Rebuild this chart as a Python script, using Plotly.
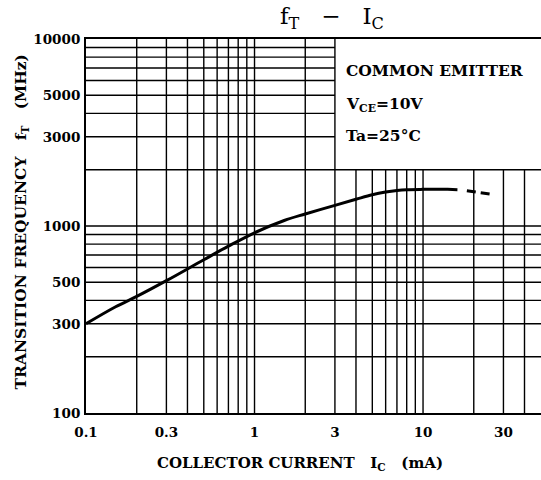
import plotly.graph_objects as go
import numpy as np

# Data
ic_solid = [0.1, 0.15, 0.2, 0.3, 0.5, 0.7, 1, 1.5, 2, 3, 4, 5, 6, 7, 8, 10, 12, 14, 16]
ft_solid = [300, 370, 420, 510, 660, 780, 920, 1070, 1160, 1290, 1390, 1470, 1520, 1550, 1565, 1570, 1570, 1570, 1565]
ic_dash = [18.2, 25]
ft_dash = [1545, 1480]

x_ticks = [0.1, 0.3, 1, 3, 10, 30]
x_ticklabels = ["0.1", "0.3", "1", "3", "10", "30"]
y_ticks = [100, 300, 500, 1000, 3000, 5000, 10000]
y_ticklabels = ["100", "300", "500", "1000", "3000", "5000", "10000"]

x_grid = [0.2, 0.3, 0.4, 0.5, 0.6, 0.7, 0.8, 0.9, 1, 2, 3, 4, 5, 6, 7, 8, 9, 10, 20, 30, 40]
y_grid = [200, 300, 400, 500, 600, 700, 800, 900, 1000, 2000, 3000, 4000, 5000, 6000, 7000, 8000, 9000]

# text box region (no grid inside)
box_x0, box_y0 = 3, 2000

X_MAX_LOG = 1.70
x_max = 10 ** X_MAX_LOG

FONT = "DejaVu Serif"

fig = go.Figure()
fig.add_trace(go.Scatter(x=ic_solid, y=ft_solid, mode="lines",
                         line=dict(color="black", width=3, shape="spline"),
                         showlegend=False, hoverinfo="skip"))
fig.add_trace(go.Scatter(x=ic_dash, y=ft_dash, mode="lines",
                         line=dict(color="black", width=3, dash="9px,5px"),
                         showlegend=False, hoverinfo="skip"))

shapes = []
GL = dict(color="black", width=1.4)
for gx in x_grid:
    ytop = box_y0 if gx > box_x0 else 10000
    shapes.append(dict(type="line", xref="x", yref="y", x0=gx, x1=gx, y0=100, y1=ytop,
                       line=GL, layer="below"))
for gy in y_grid:
    xr = box_x0 if gy > box_y0 else x_max
    shapes.append(dict(type="line", xref="x", yref="y", x0=0.1, x1=xr, y0=gy, y1=gy,
                       line=GL, layer="below"))

fig.update_layout(
    width=541, height=480,
    margin=dict(l=86, r=0, t=39, b=67),
    paper_bgcolor="white", plot_bgcolor="white",
    shapes=shapes,
    font=dict(family=FONT, color="black"),
    xaxis=dict(type="log", range=[-1, X_MAX_LOG], tickvals=x_ticks, ticktext=x_ticklabels,
               showgrid=False, zeroline=False, showline=True, linecolor="black", linewidth=2,
               mirror=True, ticks="", ticklabelstandoff=6,
               tickfont=dict(family=FONT, size=13.5, color="black", weight="bold")),
    yaxis=dict(type="log", range=[2, 4], tickvals=y_ticks, ticktext=y_ticklabels,
               showgrid=False, zeroline=False, showline=True, linecolor="black", linewidth=2,
               mirror=False, ticks="", ticklabelstandoff=1,
               tickfont=dict(family=FONT, size=13.5, color="black", weight="bold")),
    annotations=[
        dict(text="f<sub>T</sub>   −   I<sub>C</sub>", xref="paper", yref="paper",
             x=0.54, y=1.0, yshift=4, yanchor="bottom", showarrow=False,
             font=dict(family=FONT, size=23, color="black")),
        dict(text="<b>TRANSITION FREQUENCY   f<sub>T</sub>   (MHz)</b>", xref="paper", yref="paper",
             x=0, xshift=-78, y=0.5, yshift=4, textangle=-90, showarrow=False,
             font=dict(family=FONT, size=15.5, color="black")),
        dict(text="<b>COLLECTOR CURRENT   I<sub>C</sub>   (mA)</b>", xref="paper", yref="paper",
             x=0.47, y=0, yshift=-62, showarrow=False,
             font=dict(family=FONT, size=15, color="black")),
        dict(text="<b>COMMON EMITTER</b>", xref="x", yref="y", x=np.log10(3.4), y=np.log10(6800),
             xanchor="left", showarrow=False, font=dict(family=FONT, size=15.5, color="black")),
        dict(text="<b>V<sub>CE</sub>=10V</b>", xref="x", yref="y", x=np.log10(3.4), y=np.log10(4450),
             xanchor="left", showarrow=False, font=dict(family=FONT, size=15.5, color="black")),
        dict(text="<b>Ta=25°C</b>", xref="x", yref="y", x=np.log10(3.4), y=np.log10(3050),
             xanchor="left", showarrow=False, font=dict(family=FONT, size=15.5, color="black")),
    ],
)

fig.write_html("out.html", config={"displayModeBar": False},
               post_script="document.body.style.margin='0';")
